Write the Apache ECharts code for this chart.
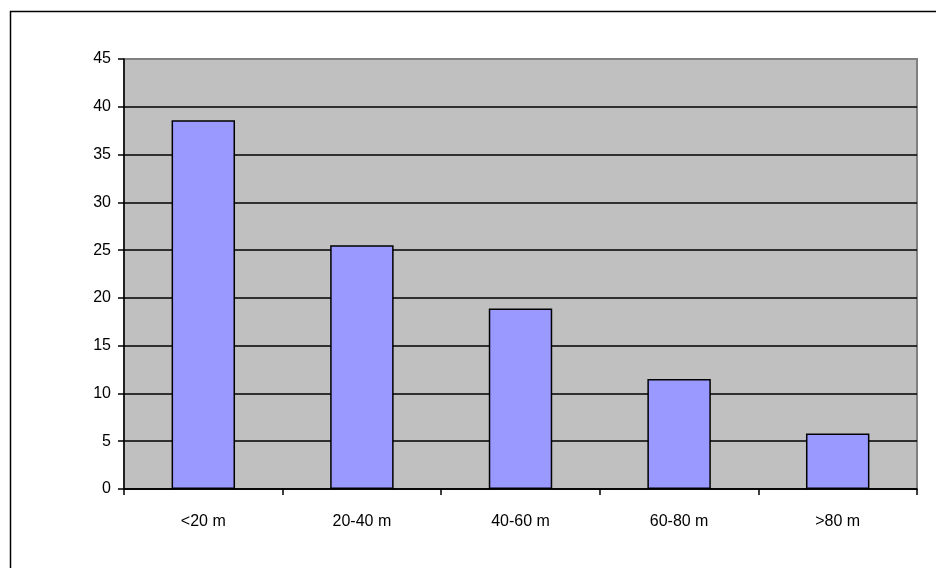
<!DOCTYPE html>
<html>
<head>
<meta charset="utf-8">
<script src="https://cdn.jsdelivr.net/npm/echarts@6/dist/echarts.min.js"></script>
<style>
  html, body { margin: 0; padding: 0; background: #fff; }
  #chart { width: 936px; height: 568px; }
</style>
</head>
<body>
<div id="chart"></div>
<script>
// depth classes and share of records (%)
var categories = ['<20 m', '20-40 m', '40-60 m', '60-80 m', '>80 m'];
var values = [38.6, 25.5, 18.9, 11.5, 5.8];
var yMin = 0, yMax = 45, yStep = 5;

var gridLineColors = [];
for (var v = yMin; v <= yMax; v += yStep) {
  gridLineColors.push(v === yMax ? '#808080' : '#000');
}

var myChart = echarts.init(document.getElementById('chart'));
var labelFont = { fontFamily: 'Liberation Sans, Arial, sans-serif', fontSize: 16, color: '#000' };

myChart.setOption({
  animation: false,
  graphic: [{
    type: 'rect',
    shape: { x: 10.5, y: 11.5, width: 940, height: 580 },
    style: { fill: 'none', stroke: '#000', lineWidth: 1.5 },
    silent: true
  }],
  grid: {
    left: 124, right: 19, top: 59, bottom: 79,
    show: true, backgroundColor: '#C0C0C0', borderColor: '#808080', borderWidth: 2
  },
  xAxis: {
    type: 'category',
    data: categories,
    axisLine: { lineStyle: { color: '#000', width: 1.5 } },
    axisTick: { show: true, alignWithLabel: false, length: 6, lineStyle: { color: '#000', width: 1.5 } },
    axisLabel: Object.assign({ margin: 25 }, labelFont)
  },
  yAxis: {
    type: 'value',
    min: yMin, max: yMax, interval: yStep,
    axisLine: { show: true, lineStyle: { color: '#000', width: 1.5 } },
    axisTick: { show: true, length: 6, lineStyle: { color: '#000', width: 1.5 } },
    axisLabel: Object.assign({ margin: 13 }, labelFont),
    splitLine: { show: true, lineStyle: { color: gridLineColors, width: 1.5 } }
  },
  series: [{
    type: 'bar',
    data: values,
    barWidth: '40%',
    itemStyle: { color: '#9999FF', borderColor: '#000', borderWidth: 1.5 }
  }]
});
</script>
</body>
</html>
